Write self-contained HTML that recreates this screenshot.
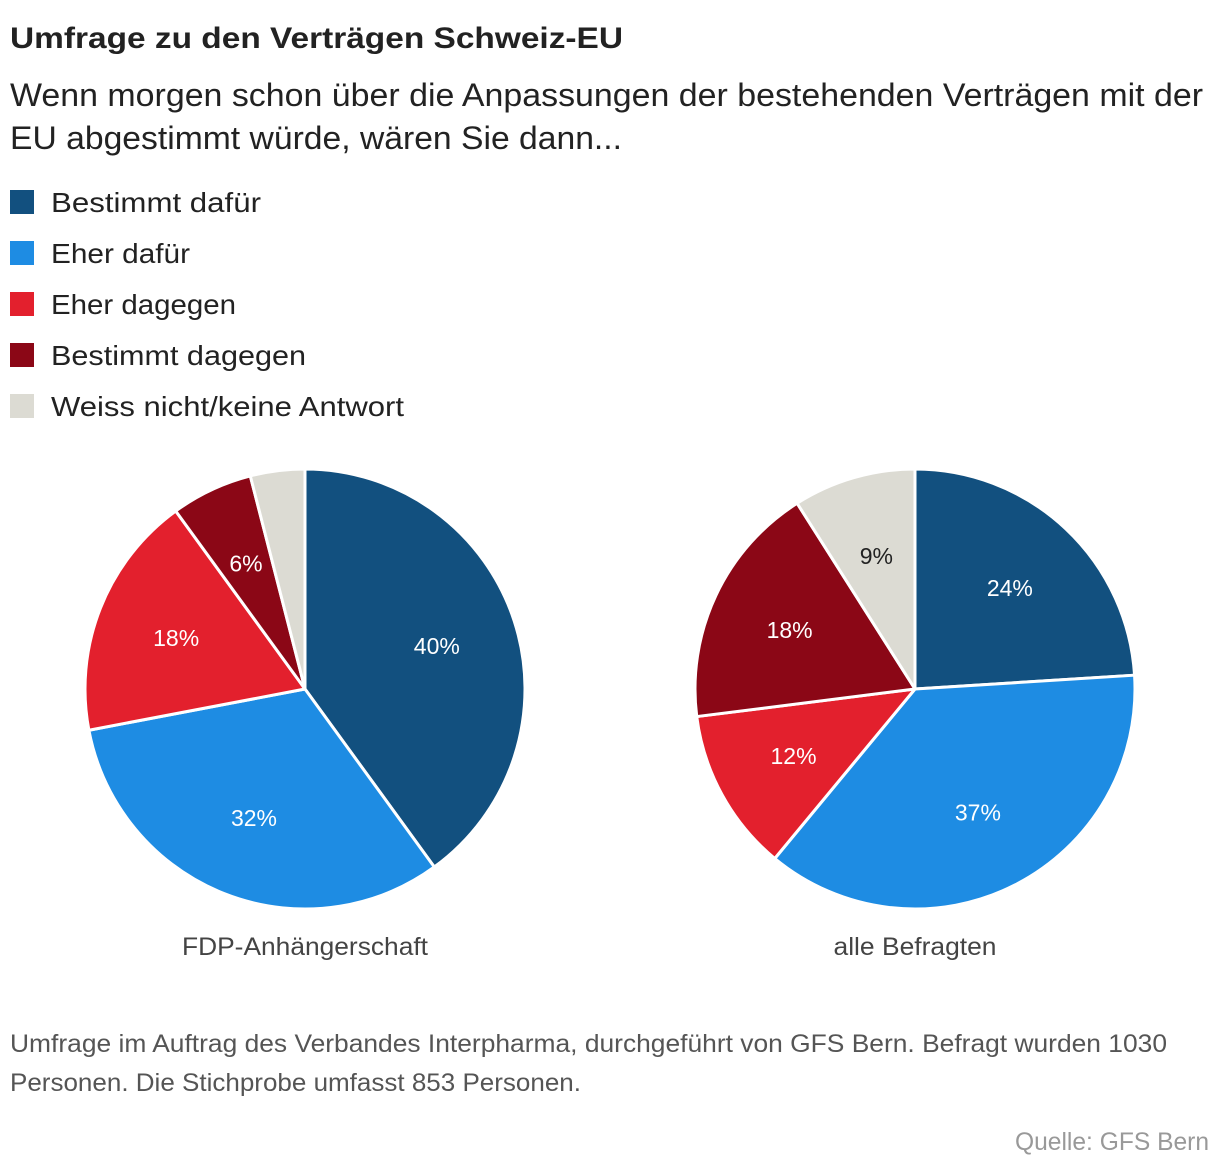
<!DOCTYPE html>
<html><head><meta charset="utf-8"><style>
html,body{margin:0;padding:0;background:#fff;width:1220px;height:1176px;overflow:hidden}
svg{display:block;font-family:"Liberation Sans",sans-serif}
</style></head><body>
<svg id="chart" width="1220" height="1176">
<text x="10" y="48" font-size="30" font-weight="bold" fill="#222" textLength="613" lengthAdjust="spacingAndGlyphs">Umfrage zu den Verträgen Schweiz-EU</text>
<text x="10" y="106" font-size="32" fill="#222" textLength="1193" lengthAdjust="spacingAndGlyphs">Wenn morgen schon über die Anpassungen der bestehenden Verträgen mit der</text>
<text x="10" y="149" font-size="32" fill="#222" textLength="612" lengthAdjust="spacingAndGlyphs">EU abgestimmt würde, wären Sie dann...</text>
<g id="legend"></g>
<g id="pies"></g>
<text x="305" y="955" font-size="25" fill="#444" text-anchor="middle" textLength="246" lengthAdjust="spacingAndGlyphs">FDP-Anhängerschaft</text>
<text x="915" y="955" font-size="25" fill="#444" text-anchor="middle" textLength="163" lengthAdjust="spacingAndGlyphs">alle Befragten</text>
<text x="10" y="1052" font-size="25" fill="#555" textLength="1157" lengthAdjust="spacingAndGlyphs">Umfrage im Auftrag des Verbandes Interpharma, durchgeführt von GFS Bern. Befragt wurden 1030</text>
<text x="10" y="1091" font-size="25" fill="#555" textLength="571" lengthAdjust="spacingAndGlyphs">Personen. Die Stichprobe umfasst 853 Personen.</text>
<text x="1209" y="1150" font-size="25" fill="#999" text-anchor="end" textLength="194" lengthAdjust="spacingAndGlyphs">Quelle: GFS Bern</text>
</svg>
<script>
const categories=["Bestimmt dafür","Eher dafür","Eher dagegen","Bestimmt dagegen","Weiss nicht/keine Antwort"];
const fdpValues=[40,32,18,6,4];
const allValues=[24,37,12,18,9];
const colors=["#12507f","#1e8ce3","#e3202d","#8b0716","#dcdbd3"];
const legendWidths=[210,139,185,255,353];
const NS="http://www.w3.org/2000/svg";
function mk(t,a,p){const e=document.createElementNS(NS,t);for(const k in a)e.setAttribute(k,a[k]);p.appendChild(e);return e;}
const lg=document.getElementById('legend');
categories.forEach((c,i)=>{
  const y=190+i*51;
  const r=mk('rect',{x:10,y:y,width:24,height:24,fill:colors[i]},lg);
  
  
  const t=mk('text',{x:51,y:y+22,'font-size':28,fill:'#222',textLength:legendWidths[i],lengthAdjust:'spacingAndGlyphs'},lg);
  t.textContent=c;
  
  
});
const pg=document.getElementById('pies');
const R=220;
function pie(cx,cy,vals,name){
  const total=vals.reduce((a,b)=>a+b,0);
  let a0=0;
  vals.forEach((v,i)=>{
    const a1=a0+v/total*Math.PI*2;
    const p=(a)=>[cx+R*Math.sin(a),cy-R*Math.cos(a)];
    const [x0,y0]=p(a0),[x1,y1]=p(a1);
    const large=(a1-a0)>Math.PI?1:0;
    const s=mk('path',{d:`M${cx},${cy}L${x0},${y0}A${R},${R} 0 ${large} 1 ${x1},${y1}Z`,fill:colors[i],stroke:'#fff','stroke-width':3,'stroke-linejoin':'round'},pg);
    
    
    if(v>=5){
      const m=(a0+a1)/2, lr=R*0.63;
      const t=mk('text',{x:cx+lr*Math.sin(m),y:cy-lr*Math.cos(m)+8,'font-size':23,'text-anchor':'middle',fill:i===4?'#222':'#fff'},pg);
      t.textContent=v+'%';
      
      
    }
    a0=a1;
  });
}
pie(305,689,fdpValues,'fdp');
pie(915,689,allValues,'all');
</script>
</body></html>
